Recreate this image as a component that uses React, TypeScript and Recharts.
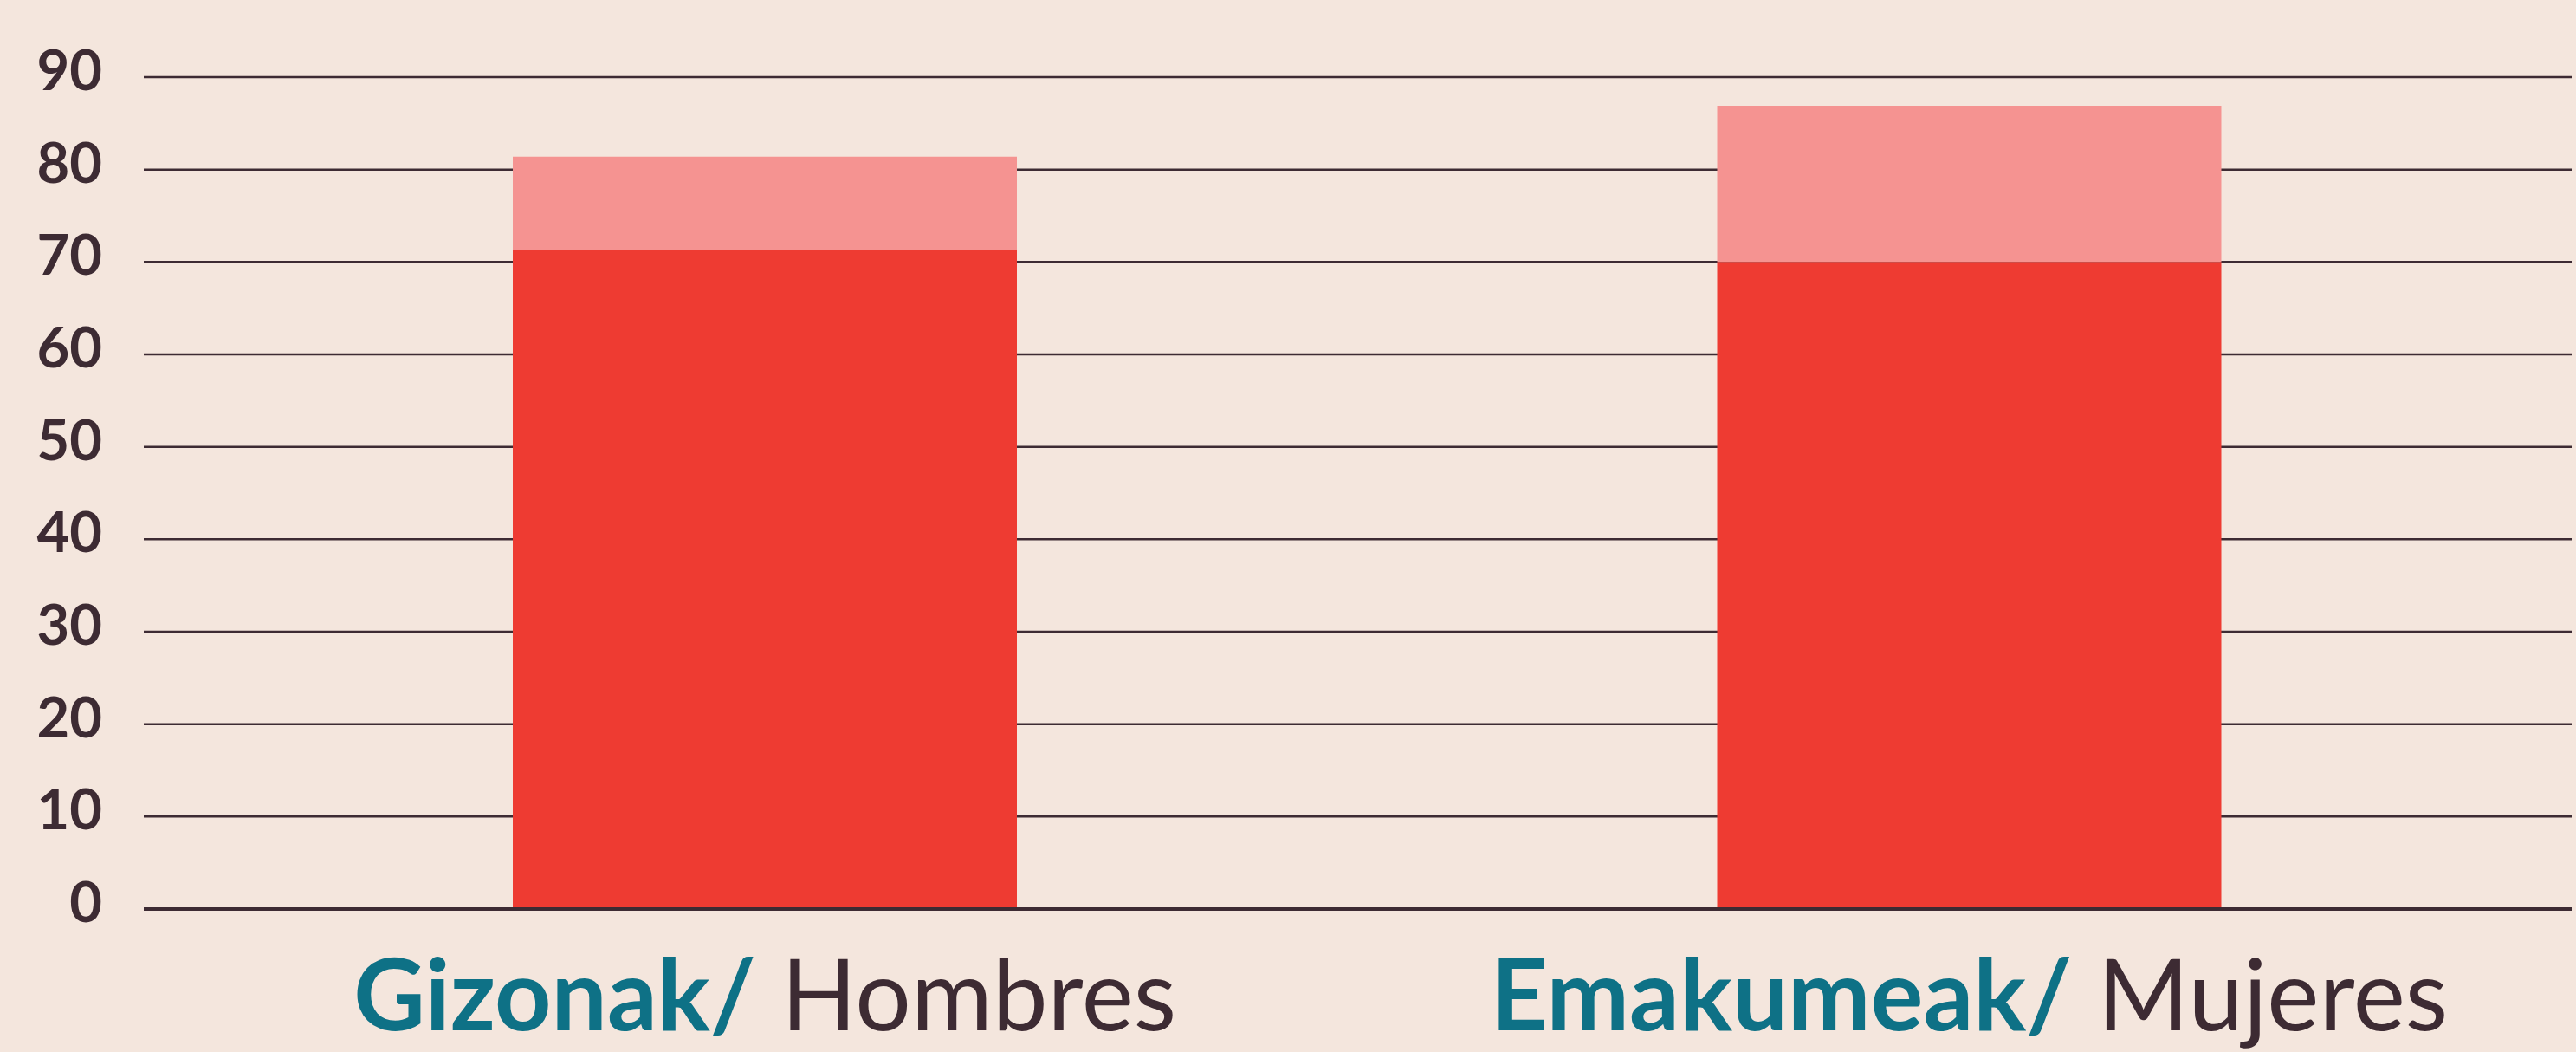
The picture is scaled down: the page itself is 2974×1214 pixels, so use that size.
import React from 'react';
import { BarChart, Bar, XAxis, YAxis, CartesianGrid } from 'recharts';

const categoriesEu = ['Gizonak', 'Emakumeak'];
const categoriesEs = ['Hombres', 'Mujeres'];
const baseValues = [71.3, 70.0];
const extraValues = [10.1, 16.9];
const yTicks = [0, 10, 20, 30, 40, 50, 60, 70, 80, 90];

const BG = '#f4e6dd';
const INK = '#3d2b33';
const TEAL = '#0e7186';
const RED = '#ee3b32';
const PINK = '#f59391';

const data = categoriesEu.map((eu, i) => ({
  name: `${eu}/ ${categoriesEs[i]}`,
  eu,
  es: categoriesEs[i],
  base: baseValues[i],
  extra: extraValues[i],
}));

const YTick = ({ x, y, payload }: any) => (
  <text
    x={x}
    y={y}
    dy={15}
    textAnchor="end"
    fill={INK}
    fontSize={65}
    fontWeight={700}
    fontFamily="Lato, sans-serif"
  >
    {payload.value}
  </text>
);

const XTick = ({ x, y, payload, index }: any) => {
  const row = data[index] ?? data.find((d) => d.name === payload.value);
  return (
    <text
      x={x}
      y={y}
      dy={132}
      textAnchor="middle"
      fontSize={114}
      fontFamily="Lato, sans-serif"
    >
      <tspan fill={TEAL} fontWeight={700}>{row.eu}/</tspan>
      <tspan fill={INK} fontWeight={400}> {row.es}</tspan>
    </text>
  );
};

export default function App() {
  return (
    <div style={{ position: 'fixed', left: 0, top: 0, width: 2974, height: 1214, background: BG }}>
      <BarChart
        width={2974}
        height={1214}
        data={data}
        margin={{ top: 89, right: 5, left: 0, bottom: 0 }}
        barSize={582}
      >
        <CartesianGrid vertical={false} stroke={INK} strokeWidth={2.5} />
        <XAxis
          dataKey="name"
          height={165}
          tickLine={false}
          axisLine={{ stroke: INK, strokeWidth: 4 }}
          tick={<XTick />}
          interval={0}
          padding={{ left: 22, right: 0 }}
        />
        <YAxis
          domain={[0, 90]}
          ticks={yTicks}
          width={166}
          axisLine={false}
          tickLine={false}
          tickSize={0}
          tickMargin={48}
          tick={<YTick />}
          interval={0}
        />
        <Bar dataKey="base" stackId="a" fill={RED} isAnimationActive={false} />
        <Bar dataKey="extra" stackId="a" fill={PINK} isAnimationActive={false} />
      </BarChart>
    </div>
  );
}
